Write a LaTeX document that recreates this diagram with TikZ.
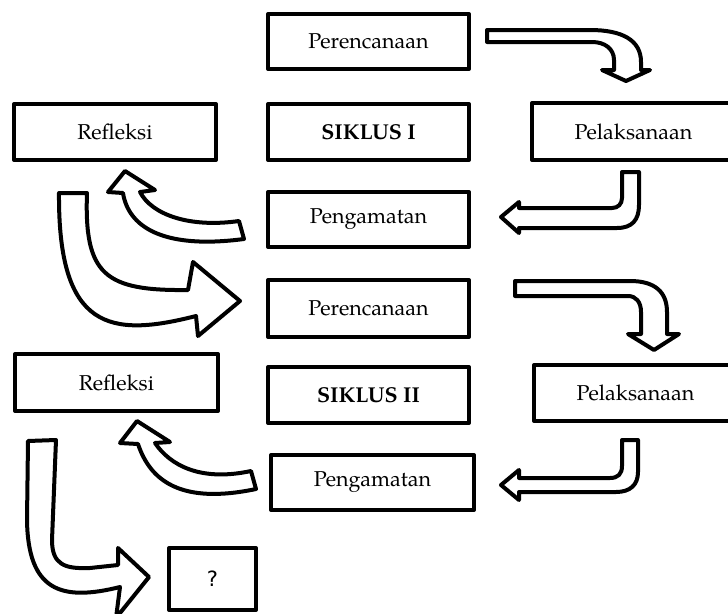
\documentclass[tikz,border=0pt]{standalone}
\usepackage{fontspec}
\setmainfont{TeX Gyre Pagella}
\newfontfamily\qfont{DejaVu Sans}
\begin{document}
\begin{tikzpicture}[x=1pt,y=-1pt,
  box/.style={draw=black,line width=4pt,fill=white,line join=round,inner sep=0pt,
    minimum width=201pt,minimum height=56pt,font=\fontsize{21.5}{25}\selectfont},
  blk/.style={draw=black,line width=4pt,fill=white,line join=round,line cap=round}]
\clip (0,0) rectangle (728,613);
\fill[white] (0,0) rectangle (728,613);
% boxes
\node[box,minimum height=55pt] (per1) at (368.5,41.5) {Perencanaan};
\node[box,minimum width=202pt] (ref1) at (115,132) {Refleksi};
\node[box] (sik1) at (368.5,132) {\bfseries SIKLUS I};
\node[box,minimum width=203pt,minimum height=57pt] (pel1) at (633.5,131.5) {Pelaksanaan};
\node[box,minimum height=55pt] (pen1) at (368.5,219.5) {Pengamatan};
\node[box,minimum height=57pt] (per2) at (368.5,308.5) {Perencanaan};
\node[box,minimum width=203pt,minimum height=57pt] (ref2) at (116.5,382.5) {Refleksi};
\node[box] (sik2) at (368.5,395) {\bfseries SIKLUS II};
\node[box,minimum width=203pt] (pel2) at (635.5,393) {Pelaksanaan};
\node[box,minimum width=203pt,minimum height=55pt] (pen2) at (372.5,482.5) {Pengamatan};
\node[box,minimum width=87pt,minimum height=62pt,font=\qfont\fontsize{21}{24}\selectfont] (q) at (212.5,579) {?};
% arrow A: Perencanaan 1 -> Pelaksanaan 1
\draw[blk] (487,30) -- (590,30) .. controls (622,30) and (641,40) .. (641,62) -- (641,70)
  -- (650,70) -- (626,81) -- (602,70) -- (614,70) -- (614,60)
  .. controls (614,49) and (605,42) .. (592,42) -- (487,42) -- cycle;
% arrow B: Pelaksanaan 1 -> Pengamatan 1
\draw[blk] (622,172) -- (639,172) -- (639,205) .. controls (639,220) and (632,228) .. (617,228)
  -- (519,228) -- (519,233) -- (501,217) -- (519,202) -- (519,208) -- (612,208)
  .. controls (618,208) and (622,204) .. (622,198) -- cycle;
% arrow E: Pengamatan 1 -> Refleksi 1
\draw[blk] (123,193) .. controls (128,225) and (160,250) .. (244,239) -- (239,221)
  .. controls (190,228) and (152,215) .. (140,192) -- (155,190) -- (125,171) -- (108,192) -- cycle;
% arrow F: Refleksi 1 -> Perencanaan 2
\draw[blk] (59,193) -- (87,193) .. controls (84,275) and (105,291) .. (188,290)
  -- (193,262) -- (240,301) -- (198,336) -- (196,316)
  .. controls (110,338) and (58,330) .. (59,193) -- cycle;
% arrow C: Perencanaan 2 -> Pelaksanaan 2
\draw[blk] (515,281) -- (630,281) .. controls (655,281) and (667,292) .. (667,312) -- (667,334)
  -- (679,334) -- (654,350) -- (628,334) -- (641,334) -- (641,312)
  .. controls (641,302) and (636,296) .. (628,296) -- (515,296) -- cycle;
% arrow D: Pelaksanaan 2 -> Pengamatan 2
\draw[blk] (622,440) -- (638,440) -- (638,472) .. controls (638,485) and (630,492) .. (616,492)
  -- (519,492) -- (519,500) -- (501,485) -- (519,470) -- (519,478) -- (610,478)
  .. controls (618,478) and (622,474) .. (622,466) -- cycle;
% arrow G: Pengamatan 2 -> Refleksi 2
\draw[blk] (138,444) .. controls (150,480) and (180,505) .. (256,489) -- (251,471)
  .. controls (200,482) and (170,465) .. (155,443) -- (170,442) -- (137,421) -- (120,443) -- cycle;
% arrow H: Refleksi 2 -> ?
\draw[blk] (28,441) -- (56,440) -- (52,540) .. controls (52,565) and (65,569) .. (90,568)
  -- (118,565) -- (118,548) -- (149,577) -- (116,618) -- (120,587)
  .. controls (60,602) and (28,590) .. (27,520) -- cycle;
\end{tikzpicture}
\end{document}
